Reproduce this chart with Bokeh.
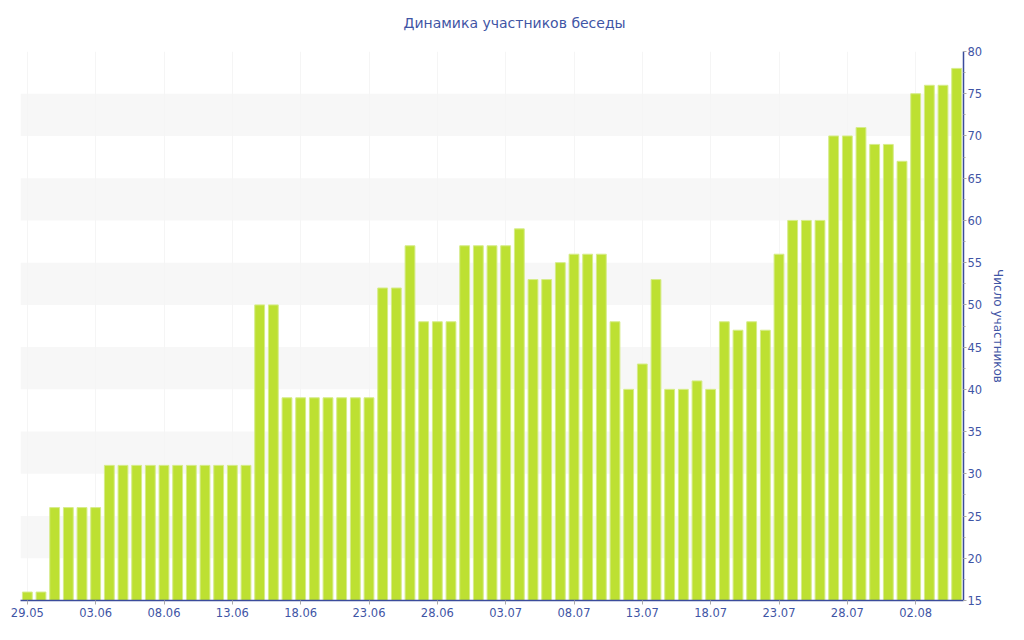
from datetime import date, timedelta
from bokeh.plotting import figure
from bokeh.models import (Range1d, LinearAxis, FixedTicker, SingleIntervalTicker,
                          Grid, ColumnDataSource)
from bokeh.embed import file_html
from bokeh.resources import INLINE

# ---- data ----
start_date = date(2016, 5, 29)
members = [16, 16, 26,
           26, 26, 26, 31, 31, 31, 31, 31, 31, 31, 31, 31, 31, 31, 50, 50,
           39, 39, 39, 39, 39, 39, 39, 52, 52, 57, 48, 48, 48, 57,
           57, 57, 57, 59, 53, 53, 55, 56, 56, 56, 48, 40, 43, 53, 40, 40,
           41, 40, 48, 47, 48, 47, 56, 60, 60, 60, 70, 70, 71, 69, 69,
           67, 75, 76, 76, 78]
day_labels = [(start_date + timedelta(days=i)).strftime("%d.%m") for i in range(len(members))]
tick_every = 5
band_ticks = list(range(20, 76, 5))

TEXT = "#3F55A5"
AXIS = "#3B4C9B"
FONT = "DejaVu Sans"

idx = list(range(len(members)))
src = ColumnDataSource(dict(x=idx, top=members, label=day_labels))

p = figure(width=1008, height=624, output_backend="svg", toolbar_location=None,
           x_range=Range1d(-0.5, len(members) - 0.5), y_range=Range1d(15, 80),
           y_axis_location=None, x_axis_location=None,
           min_border_left=20, min_border_right=44, min_border_top=51, min_border_bottom=24)
p.outline_line_color = None
p.background_fill_color = "white"
p.border_fill_color = "white"

p.title.text = "Динамика участников беседы"
p.title.align = "left"
p.title.text_font = FONT
p.title.text_font_size = "14px"
p.title.text_font_style = "normal"
p.title.text_color = TEXT
p.title.offset = 383
p.title.standoff = 1
p.title.padding = dict(left=0, right=0, top=0, bottom=20)

# grids
p.xgrid.grid_line_color = None
p.ygrid.grid_line_color = None
band_grid = Grid(dimension=1, ticker=FixedTicker(ticks=band_ticks),
                 grid_line_color=None, band_fill_color="#F7F7F7", band_fill_alpha=1.0)
p.add_layout(band_grid)
vgrid = Grid(dimension=0, ticker=FixedTicker(ticks=idx[::tick_every]),
             grid_line_color="#F5F5F5", grid_line_width=1)
p.add_layout(vgrid)

p.vbar(x="x", top="top", bottom=0, width=0.72, source=src,
       fill_color="#BDE032", line_color="#D6EC8A", line_width=1)

# x axis
xaxis = LinearAxis(ticker=FixedTicker(ticks=idx[::tick_every]),
                   major_label_overrides={i: day_labels[i] for i in idx[::tick_every]})
xaxis.axis_line_color = AXIS
xaxis.axis_line_width = 1.5
xaxis.major_tick_line_color = "#AAAAAA"
xaxis.major_tick_out = 4
xaxis.major_tick_in = 0
xaxis.minor_tick_line_color = None
xaxis.major_label_text_font = FONT
xaxis.major_label_text_font_size = "11.5px"
xaxis.major_label_text_color = TEXT
xaxis.major_label_standoff = 3
p.add_layout(xaxis, "below")

# y axis (right)
yaxis = LinearAxis(ticker=SingleIntervalTicker(interval=5, num_minor_ticks=2),
                   axis_label="Число участников")
yaxis.axis_line_color = AXIS
yaxis.axis_line_width = 1.5
yaxis.major_tick_line_color = "#AAAAAA"
yaxis.major_tick_out = 3
yaxis.major_tick_in = 0
yaxis.minor_tick_line_color = "#AAAAAA"
yaxis.minor_tick_out = 2
yaxis.minor_tick_in = 0
yaxis.major_label_text_font = FONT
yaxis.major_label_text_font_size = "11.5px"
yaxis.major_label_text_color = TEXT
yaxis.major_label_standoff = 1
yaxis.axis_label_text_font = FONT
yaxis.axis_label_text_font_size = "12px"
yaxis.axis_label_text_font_style = "normal"
yaxis.axis_label_text_color = TEXT
yaxis.axis_label_standoff = 6
p.add_layout(yaxis, "right")

open("out.html", "w").write(file_html(p, INLINE))
